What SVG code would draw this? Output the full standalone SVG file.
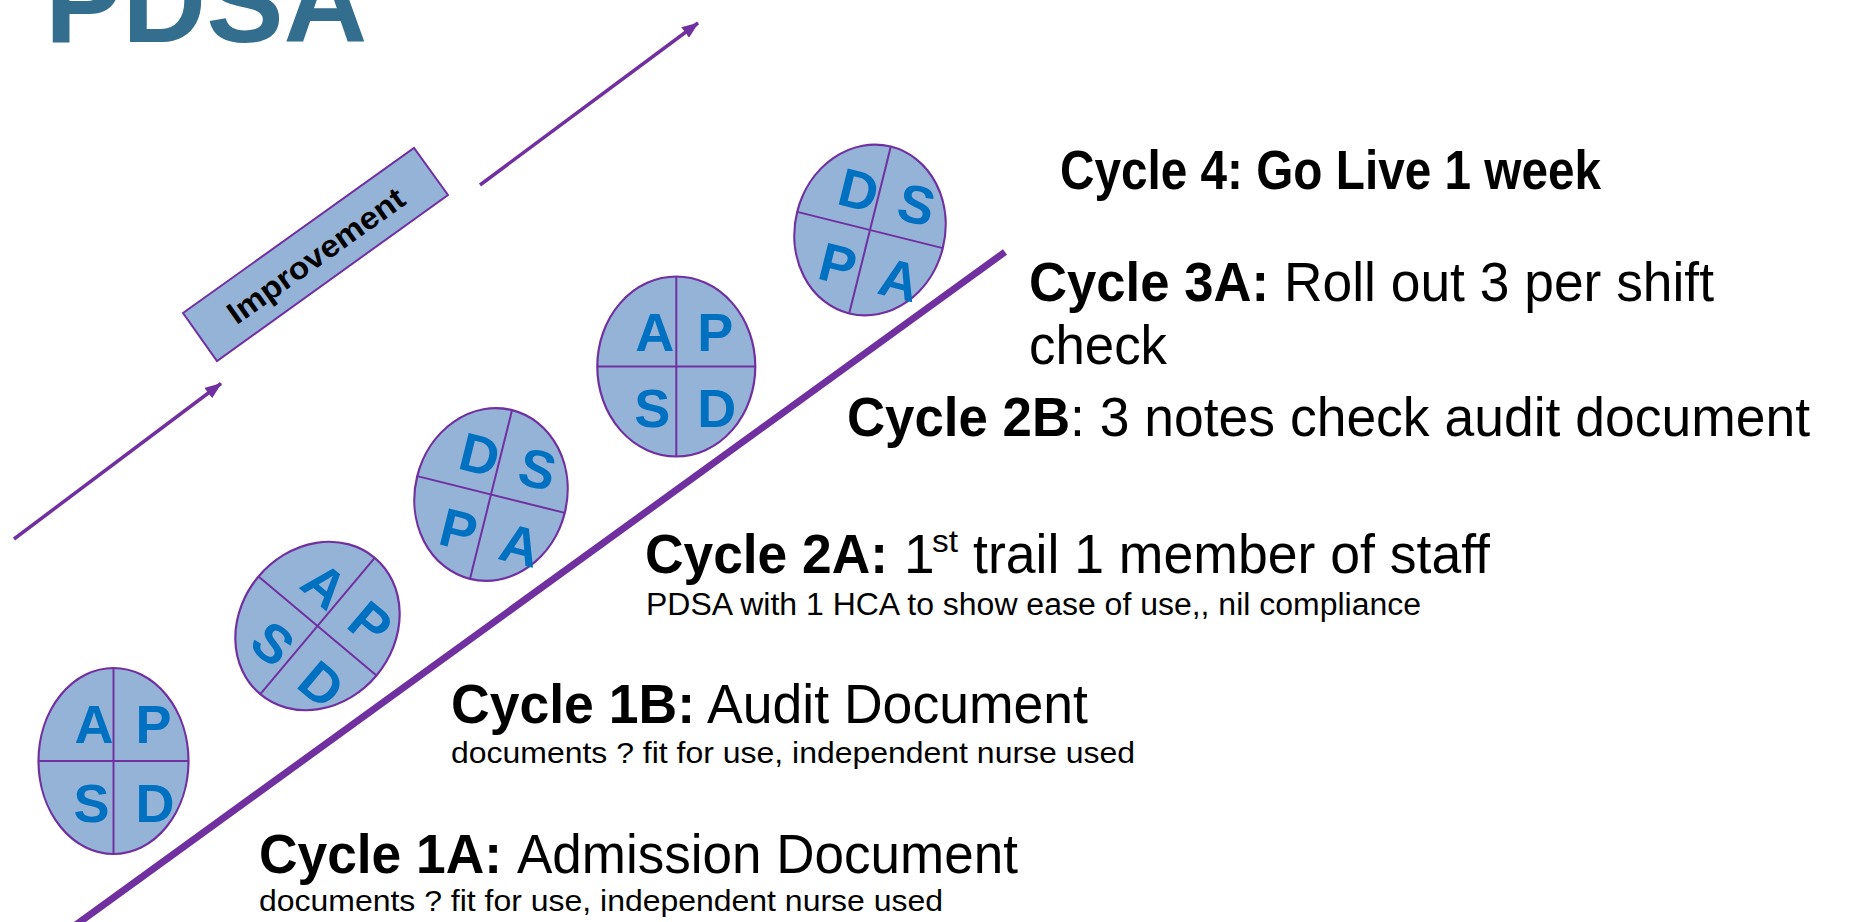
<svg xmlns="http://www.w3.org/2000/svg" width="1862" height="922" viewBox="0 0 1862 922">
<defs>
<style>
.bg{fill:#ffffff}
.title{font-family:"Liberation Sans",Arial,sans-serif;font-weight:bold;font-size:116px;fill:#336E8E}
.pdsa ellipse{fill:#95B3D7;stroke:#7030A0;stroke-width:2.2}
.pdsa line{stroke:#7030A0;stroke-width:2}
.pdsa text{font-family:"Liberation Sans",Arial,sans-serif;font-weight:bold;font-size:54px;fill:#0070C0}
.b{font-family:"Liberation Sans",Arial,sans-serif;font-weight:bold;font-size:55px;fill:#000}
.r{font-family:"Liberation Sans",Arial,sans-serif;font-size:55px;fill:#000}
.s{font-family:"Liberation Sans",Arial,sans-serif;font-size:30px;fill:#000}
.arrow{stroke:#7030A0;stroke-width:3.5;fill:none}
.impbox{fill:#95B3D7;stroke:#7030A0;stroke-width:2}
.imptext{font-family:"Liberation Sans",Arial,sans-serif;font-weight:bold;font-size:31px;fill:#000}
</style>
<marker id="ah" markerUnits="userSpaceOnUse" markerWidth="17" markerHeight="13" viewBox="0 0 17 13" refX="16" refY="6.5" orient="auto">
<path d="M0,0 L17,6.5 L0,13 z" fill="#7030A0"/>
</marker>
</defs>
<rect class="bg" x="0" y="0" width="1862" height="922"/>

<g id="title">
<text class="title" x="45" y="42">PDSA</text>
</g>

<g id="connectors">
<line class="arrow" x1="14" y1="539" x2="221" y2="383.5" marker-end="url(#ah)"/>
<line class="arrow" x1="480" y1="185" x2="698" y2="23" marker-end="url(#ah)"/>
</g>

<g id="trend-line">
<line x1="55" y1="940" x2="1005" y2="252" stroke="#7030A0" stroke-width="7"/>
</g>

<g id="improvement">
<polygon class="impbox" points="183,313 414,148 448,195 217,361"/>
<text class="imptext" transform="translate(315.7,255.4) rotate(-35.5)" x="0" y="11" text-anchor="middle" textLength="210" lengthAdjust="spacingAndGlyphs">Improvement</text>
</g>

<g id="cycle-1a-pdsa" class="pdsa" transform="translate(113.5,761)">
<ellipse cx="0" cy="0" rx="75" ry="93"/>
<line x1="-75" y1="0" x2="75" y2="0"/>
<line x1="0" y1="-93" x2="0" y2="93"/>
<text x="-39" y="-18">A</text>
<text x="22" y="-18">P</text>
<text x="-40" y="61">S</text>
<text x="22" y="61">D</text>
</g>

<g id="cycle-1b-pdsa" class="pdsa" transform="translate(317.5,626) rotate(40)">
<ellipse cx="0" cy="0" rx="77" ry="89"/>
<line x1="-77" y1="0" x2="77" y2="0"/>
<line x1="0" y1="-89" x2="0" y2="89"/>
<text x="-40" y="-17">A</text>
<text x="21" y="-17">P</text>
<text x="-41" y="61">S</text>
<text x="21" y="61">D</text>
</g>

<g id="cycle-2a-pdsa" class="pdsa" transform="translate(491,494.5) rotate(14)">
<ellipse cx="0" cy="0" rx="76" ry="87"/>
<line x1="-76" y1="0" x2="76" y2="0"/>
<line x1="0" y1="-87" x2="0" y2="87"/>
<text x="-40" y="-17">D</text>
<text x="21" y="-17">S</text>
<text x="-41" y="61">P</text>
<text x="21" y="61">A</text>
</g>

<g id="cycle-2b-pdsa" class="pdsa" transform="translate(676.3,366.5)">
<ellipse cx="0" cy="0" rx="79" ry="90"/>
<line x1="-79" y1="0" x2="79" y2="0"/>
<line x1="0" y1="-90" x2="0" y2="90"/>
<text x="-41" y="-16">A</text>
<text x="21" y="-16">P</text>
<text x="-42" y="60">S</text>
<text x="21" y="60">D</text>
</g>

<g id="cycle-3a-pdsa" class="pdsa" transform="translate(870,230) rotate(14)">
<ellipse cx="0" cy="0" rx="75" ry="86"/>
<line x1="-75" y1="0" x2="75" y2="0"/>
<line x1="0" y1="-86" x2="0" y2="86"/>
<text x="-40" y="-17">D</text>
<text x="21" y="-17">S</text>
<text x="-41" y="60">P</text>
<text x="21" y="60">A</text>
</g>

<g id="label-cycle-4">
<text class="b" x="1060" y="189" textLength="541" lengthAdjust="spacingAndGlyphs">Cycle 4: Go Live 1 week</text>
</g>

<g id="label-cycle-3a">
<text class="b" x="1029" y="301" textLength="240" lengthAdjust="spacingAndGlyphs">Cycle 3A:</text>
<text class="r" x="1284" y="301" textLength="430" lengthAdjust="spacingAndGlyphs">Roll out 3 per shift</text>
<text class="r" x="1029" y="364" textLength="138" lengthAdjust="spacingAndGlyphs">check</text>
</g>

<g id="label-cycle-2b">
<text class="b" x="847" y="436" textLength="223" lengthAdjust="spacingAndGlyphs">Cycle 2B</text>
<text class="r" x="1070" y="436" textLength="740" lengthAdjust="spacingAndGlyphs">: 3 notes check audit document</text>
</g>

<g id="label-cycle-2a">
<text class="b" x="645" y="573" textLength="243" lengthAdjust="spacingAndGlyphs">Cycle 2A:</text>
<text class="r" x="904" y="573">1</text>
<text class="r" x="932" y="552" style="font-size:31px" textLength="26" lengthAdjust="spacingAndGlyphs">st</text>
<text class="r" x="973" y="573" textLength="517" lengthAdjust="spacingAndGlyphs">trail 1 member of staff</text>
<text class="s" x="646" y="615" style="font-size:31px" textLength="775" lengthAdjust="spacingAndGlyphs">PDSA with 1 HCA to show ease of use,, nil compliance</text>
</g>

<g id="label-cycle-1b">
<text class="b" x="451" y="723" textLength="244" lengthAdjust="spacingAndGlyphs">Cycle 1B:</text>
<text class="r" x="707" y="723" textLength="381" lengthAdjust="spacingAndGlyphs">Audit Document</text>
<text class="s" x="451" y="763" textLength="684" lengthAdjust="spacingAndGlyphs">documents ? fit for use, independent nurse used</text>
</g>

<g id="label-cycle-1a">
<text class="b" x="259" y="873" textLength="243" lengthAdjust="spacingAndGlyphs">Cycle 1A:</text>
<text class="r" x="517" y="873" textLength="501" lengthAdjust="spacingAndGlyphs">Admission Document</text>
<text class="s" x="259" y="911" textLength="684" lengthAdjust="spacingAndGlyphs">documents ? fit for use, independent nurse used</text>
</g>
</svg>
